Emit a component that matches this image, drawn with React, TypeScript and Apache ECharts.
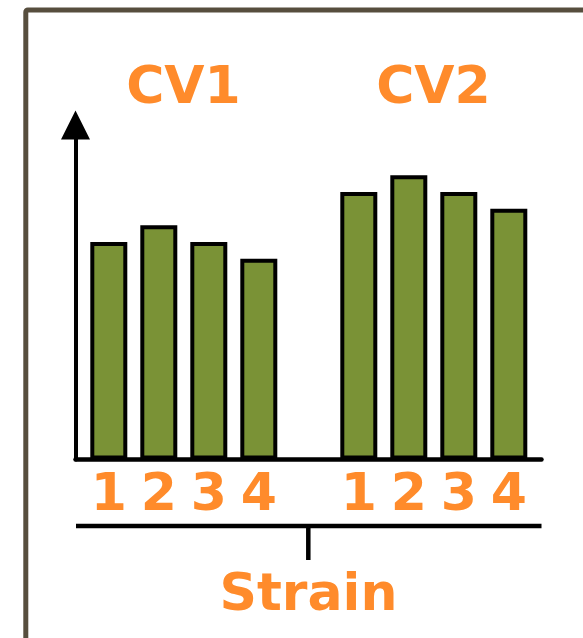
import React, { useEffect, useRef } from "react";
import * as echarts from "echarts";

const strainLabels = ["1", "2", "3", "4", "", "1", "2", "3", "4"];
const values: (number | string)[] = [13, 14, 13, 12, "-", 16, 17, 16, 15];
const groupLabels = ["CV1", "CV2"];
const axisName = "Strain";

const ORANGE = "#ff8b2b";
const GREEN = "#7a9236";
const FONT = "DejaVu Sans";

export default function App() {
  const ref = useRef<HTMLDivElement>(null);
  useEffect(() => {
    const chart = echarts.init(ref.current!, null, { renderer: "svg" });
    const top = 125;
    const bottom = 178.5;
    chart.setOption({
      animation: false,
      backgroundColor: "#ffffff",
      grid: [
        { left: 75.5, right: 41.5, top, bottom, outerBoundsMode: "none", containLabel: false },
        { left: 83.8, right: 49.2, top, bottom, outerBoundsMode: "none", containLabel: false },
      ],
      xAxis: [
        {
          gridIndex: 0,
          type: "value",
          min: 0,
          max: 1,
          axisLine: { show: true, lineStyle: { color: "#000", width: 4.5 } },
          axisTick: { show: false },
          axisLabel: { show: false },
          splitLine: { show: false },
          name: axisName,
          nameLocation: "middle",
          nameGap: 106,
          nameTextStyle: { color: ORANGE, fontSize: 52, fontWeight: "bold", fontFamily: FONT },
        },
        {
          gridIndex: 1,
          type: "category",
          data: strainLabels,
          axisLine: { show: false },
          axisTick: { show: false },
          axisLabel: {
            color: ORANGE,
            fontSize: 52,
            fontWeight: "bold",
            fontFamily: FONT,
            margin: 6,
            interval: 0,
          },
        },
      ],
      yAxis: [
        {
          gridIndex: 0,
          type: "value",
          min: 0,
          max: 20,
          axisLine: {
            show: true,
            symbol: ["none", "triangle"],
            symbolSize: [29, 29],
            lineStyle: { color: "#000", width: 4 },
          },
          axisTick: { show: false },
          axisLabel: { show: false },
          splitLine: { show: false },
        },
        {
          gridIndex: 1,
          type: "value",
          min: 0,
          max: 20,
          show: false,
        },
      ],
      series: [
        {
          type: "bar",
          xAxisIndex: 1,
          yAxisIndex: 1,
          data: values,
          barWidth: 37,
          itemStyle: { color: GREEN, borderColor: "#000", borderWidth: 4 },
        },
      ],
      graphic: [
        {
          type: "rect",
          shape: { x: 25.8, y: 10, width: 700, height: 700, r: 2 },
          style: { fill: "none", stroke: "#574e3e", lineWidth: 5 },
          silent: true,
        },
        {
          type: "line",
          shape: { x1: 76, y1: 526, x2: 541.5, y2: 526 },
          style: { stroke: "#000", lineWidth: 4.5 },
        },
        {
          type: "line",
          shape: { x1: 308.3, y1: 526, x2: 308.3, y2: 560 },
          style: { stroke: "#000", lineWidth: 4.5 },
        },
        {
          type: "text",
          x: 183.5,
          y: 85.3,
          style: {
            text: groupLabels[0],
            fill: ORANGE,
            font: `bold 52px "${FONT}"`,
            align: "center",
            verticalAlign: "middle",
          },
        },
        {
          type: "text",
          x: 433.5,
          y: 85.3,
          style: {
            text: groupLabels[1],
            fill: ORANGE,
            font: `bold 52px "${FONT}"`,
            align: "center",
            verticalAlign: "middle",
          },
        },
      ],
    });
    return () => chart.dispose();
  }, []);
  return (
    <div
      ref={ref}
      style={{ position: "fixed", left: 0, top: 0, width: 583, height: 638, background: "#fff" }}
    />
  );
}
